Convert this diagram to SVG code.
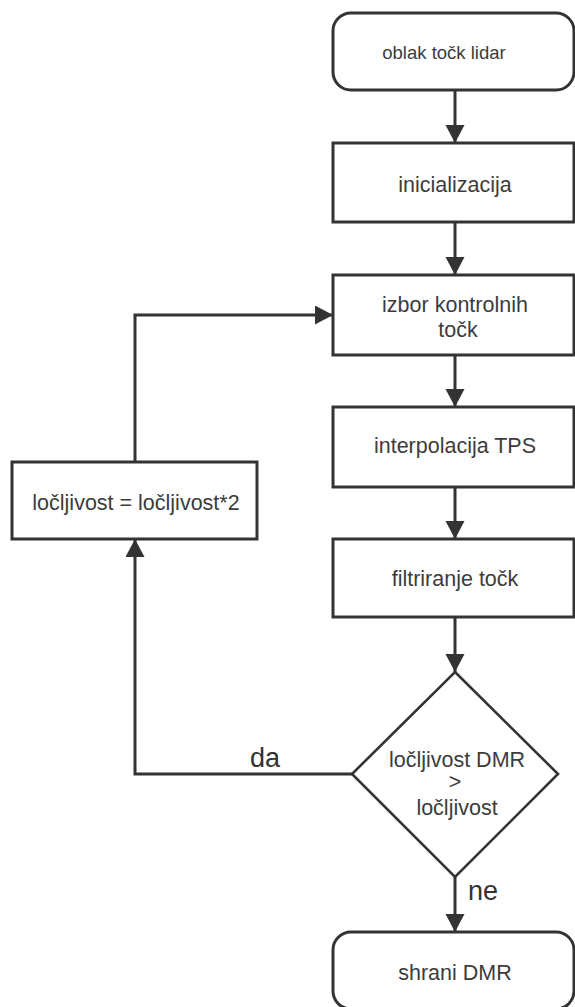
<svg xmlns="http://www.w3.org/2000/svg" width="575" height="1007" viewBox="0 0 575 1007">
<style>
.box{fill:#fff;stroke:#333;stroke-width:3}
.dia{fill:#fff;stroke:#333;stroke-width:2.6}
.t{font-family:"Liberation Sans",Arial,sans-serif;font-size:21.5px;fill:#3c3c3c;text-anchor:middle}
.lbl{font-family:"Liberation Sans",Arial,sans-serif;font-size:27px;fill:#333}
.c{fill:none;stroke:#333;stroke-width:3}
</style>
<defs>
<marker id="ah" markerUnits="userSpaceOnUse" markerWidth="20" markerHeight="20" refX="18" refY="9.5" orient="auto">
<path d="M0,0 L18,9.5 L0,19 z" fill="#333"/>
</marker>
</defs>
<rect width="575" height="1007" fill="#fff"/>
<g id="connectors">
<path class="c" d="M455,90 V143" marker-end="url(#ah)"/>
<path class="c" d="M455,222 V275" marker-end="url(#ah)"/>
<path class="c" d="M455,355 V407" marker-end="url(#ah)"/>
<path class="c" d="M455,487 V539" marker-end="url(#ah)"/>
<path class="c" d="M455,617 V672" marker-end="url(#ah)"/>
<path class="c" d="M455,877 V932" marker-end="url(#ah)"/>
<path class="c" d="M352,774 H135 V539" marker-end="url(#ah)"/>
<path class="c" d="M135,462 V315 H333" marker-end="url(#ah)"/>
<text class="lbl" x="250" y="767">da</text>
<text class="lbl" x="468" y="900">ne</text>
</g>
<g id="start">
<rect class="box" x="333" y="13" width="241" height="77" rx="18" ry="18"/>
<text class="t" x="444" y="59" style="font-size:18.5px">oblak točk lidar</text>
</g>
<g id="init">
<rect class="box" x="333" y="143" width="241" height="79"/>
<text class="t" x="455" y="192">inicializacija</text>
</g>
<g id="izbor">
<rect class="box" x="333" y="275" width="241" height="80"/>
<text class="t" x="455" y="312">izbor kontrolnih</text>
<text class="t" x="458" y="337">točk</text>
</g>
<g id="interp">
<rect class="box" x="333" y="407" width="241" height="80"/>
<text class="t" x="455" y="453">interpolacija TPS</text>
</g>
<g id="filter">
<rect class="box" x="333" y="539" width="241" height="78"/>
<text class="t" x="455" y="586">filtriranje točk</text>
</g>
<g id="decision">
<polygon class="dia" points="455,672 558,774 455,877 352,774"/>
<text class="t" x="457" y="767">ločljivost DMR</text>
<text class="t" x="455" y="789">&gt;</text>
<text class="t" x="457" y="815">ločljivost</text>
</g>
<g id="update">
<rect class="box" x="12" y="462" width="245" height="77"/>
<text class="t" x="136" y="510">ločljivost = ločljivost*2</text>
</g>
<g id="end">
<rect class="box" x="333" y="932" width="241" height="77" rx="18" ry="18"/>
<text class="t" x="455" y="980">shrani DMR</text>
</g>
</svg>
